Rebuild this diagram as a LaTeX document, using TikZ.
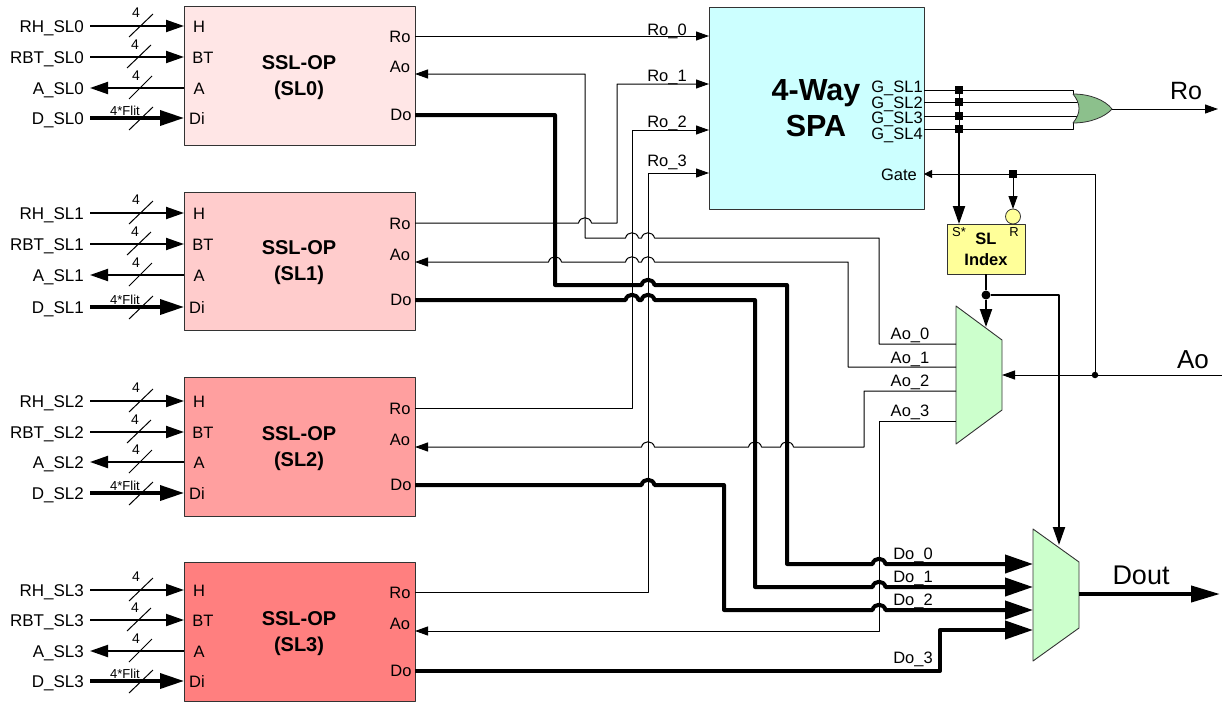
\documentclass[tikz,border=0pt]{standalone}
\usepackage{fontspec}
\setmainfont{Liberation Sans}
\usetikzlibrary{arrows.meta}
\definecolor{slcol0}{HTML}{FFE6E6}
\definecolor{slcol1}{HTML}{FFCCCC}
\definecolor{slcol2}{HTML}{FF9F9F}
\definecolor{slcol3}{HTML}{FF7F7F}
\definecolor{spacol}{HTML}{CCFFFF}
\definecolor{muxcol}{HTML}{CCFFCC}
\definecolor{idxcol}{HTML}{FFFF99}
\definecolor{orcol}{HTML}{8CC08C}
\begin{document}
\begin{tikzpicture}[x=1pt,y=-1pt, line join=round, line cap=butt,
	sig/.style={inner sep=0pt,text height=12pt,text depth=0pt,font=\fontsize{16.5}{19}\selectfont},
	portlbl/.style={sig,anchor=east,inner xsep=6pt,font=\fontsize{17}{19}\selectfont},
	small/.style={inner sep=0pt,font=\fontsize{13}{15}\selectfont},
	huge/.style={inner sep=0pt,font=\fontsize{26}{30}\selectfont},
	block/.style={draw=black!80,line width=0.9pt,minimum width=231pt,minimum height=138.5pt,inner sep=0pt,outer sep=0pt},
	wire/.style={line width=1pt,>={Triangle[length=13pt,width=9pt]}},
	bus/.style={line width=2pt,>={Triangle[length=18pt,width=12pt]}},
	dbus/.style={line width=3.5pt,>={Triangle[length=24pt,width=15pt]}},
	dowire/.style={line width=4pt,>={Triangle[length=28pt,width=18pt]}},
	selwire/.style={line width=2pt,>={Triangle[length=18pt,width=12pt]}},
	junc/.style={fill=black,inner sep=0pt,minimum size=7.5pt},
	dot/.style={circle,fill=black,inner sep=0pt,minimum size=#1},
	mux/.style={draw=black!80,line width=0.9pt,fill=muxcol}]
	\def\hop(#1,#2){-- ({#1-6.5},#2) .. controls ({#1-5},{#2-7}) and ({#1+5},{#2-7}) .. ({#1+6.5},#2)}
	\useasboundingbox (0,0) rectangle (1222,704);
	\foreach \i/\ymid/\yh/\ybt/\ya/\ydi/\yro/\yao/\ydo in {0/76/26/57/88/118/36/74/115,1/261.5/213/244/275/307/223/262/300,2/447/401/432/462/493/408/447/485,3/632/590/620/651/681/592/631/671} {
		\node[block,fill=slcol\i] (sl\i) at (299.5,\ymid) {};
		\node[inner sep=0pt,align=center,font=\bfseries\fontsize{20}{26}\selectfont] (title\i) at (299,\ymid+1.5) {SSL-OP\\(SL\i)};
		\node[sig] (h\i) at (199,\yh) {H};
		\node[sig] (bt\i) at (203,\ybt) {BT};
		\node[sig] (a\i) at (199,\ya) {A};
		\node[sig] (di\i) at (197,\ydi) {Di};
		\node[sig] (rolbl\i) at (400,\yro) {Ro};
		\node[sig] (aolbl\i) at (400,\yao-8) {Ao};
		\node[sig] (dolbl\i) at (401,\ydo-1) {Do};
		\coordinate (ro\i) at (sl\i.east |- 0,\yro);
		\coordinate (ao\i) at (sl\i.east |- 0,\yao);
		\coordinate (do\i) at (sl\i.east |- 0,\ydo);
		\node[portlbl] (rh\i) at (90,\yh) {RH\_SL\i};
		\node[portlbl] (rbt\i) at (90,\ybt) {RBT\_SL\i};
		\node[portlbl] (asl\i) at (90,\ya) {A\_SL\i};
		\node[portlbl] (dsl\i) at (90,\ydi) {D\_SL\i};
		\draw[bus,->] (rh\i.east) -- (sl\i.west |- rh\i.east);
		\draw[bus,->] (rbt\i.east) -- (sl\i.west |- rbt\i.east);
		\draw[bus,<-] (asl\i.east) -- (sl\i.west |- asl\i.east);
		\draw[dbus,->] (dsl\i.east) -- (sl\i.west |- dsl\i.east);
		\draw[wire] (129,\yh+11) -- ++(24,-23);
		\draw[wire] (127,\ybt+11) -- ++(24,-23);
		\draw[wire] (129,\ya+11) -- ++(23,-23);
		\draw[wire] (129,\ydi+12) -- ++(24,-23);
		\node[small,font=\fontsize{14}{16}\selectfont] (nh\i) at (136,\yh-13) {4};
		\node[small,font=\fontsize{14}{16}\selectfont] (nbt\i) at (135,\ybt-12) {4};
		\node[small,font=\fontsize{14}{16}\selectfont] (na\i) at (136,\ya-12) {4};
		\node[small] (nd\i) at (125,\ydi-7) {4*Flit};
	}
	\node[draw=black!80,line width=0.9pt,fill=spacol,minimum width=215pt,minimum height=202pt,inner sep=0pt,outer sep=0pt] (spa) at (816.5,108) {};
	\node[align=center,inner sep=0pt,font=\bfseries\fontsize{30.5}{36}\selectfont] (spatitle) at (816,108) {4-Way\\SPA};
	\foreach \n/\y/\yt in {1/90/86,2/102/102,3/116/117,4/129/133} {
		\node[sig] (gl\n) at (897,\yt) {G\_SL\n};
		\coordinate (g\n) at (spa.east |- 0,\y);
	}
	\node[sig] (gatelbl) at (899,174) {Gate};
	\foreach \n/\y in {0/36,1/84,2/130,3/173} \coordinate (rin\n) at (spa.west |- 0,\y);
	\foreach \n/\y in {0/29,1/75,2/121,3/160} \node[sig] (rolab\n) at (667,\y) {Ro\_\n};
	\draw[wire,->] (ro0) -- (rin0);
	\draw[wire,->] (ro1) \hop(585,223) -- (617,223) -- (617,84) -- (rin1);
	\draw[wire,->] (ro2) -- (632,408) -- (632,130) -- (rin2);
	\draw[wire,->] (ro3) -- (648,592) -- (648,173) -- (rin3);
	\draw[mux] (956,306) coordinate (ma) -- (1002,340) -- (1002,410) -- (956,444) -- cycle;
	\foreach \n/\y in {0/344,1/367,2/391,3/421} \coordinate (ain\n) at (ma |- 0,\y);
	\foreach \n/\y in {0/333,1/357,2/380,3/410} \node[sig] (aolab\n) at (910,\y) {Ao\_\n};
	\draw[wire,<-] (ao0) -- (585,74) -- (585,238) \hop(632,238) \hop(648,238) -- (879,238) -- (879,344) -- (ain0);
	\draw[wire,<-] (ao1) \hop(555,262) \hop(632,262) \hop(648,262) -- (848,262) -- (848,367) -- (ain1);
	\draw[wire,<-] (ao2) \hop(648,447) \hop(755,447) \hop(787,447) -- (864,447) -- (864,391) -- (ain2);
	\draw[wire,<-] (ao3) -- (879,631) -- (879,421) -- (ain3);
	\draw[mux] (1033,529) coordinate (mb) -- (1079,562) -- (1079,628) -- (1033,661) -- cycle;
	\foreach \n/\y in {0/564,1/587,2/610,3/630} \coordinate (din\n) at (mb |- 0,\y);
	\foreach \n/\y in {0/553,1/576,2/599,3/657} \node[sig] (dolab\n) at (913,\y) {Do\_\n};
	\draw[dowire,->] (do0) -- (555,115) -- (555,285) \hop(648,285) -- (787,285) -- (787,564) \hop(879,564) -- (din0);
	\draw[dowire,->] (do1) \hop(632,300) \hop(648,300) -- (755,300) -- (755,587) \hop(879,587) -- (din1);
	\draw[dowire,->] (do2) \hop(648,485) -- (724,485) -- (724,610) \hop(879,610) -- (din2);
	\draw[dowire,->] (do3) -- (940,671) -- (940,630) -- (din3);
	\coordinate (dmout) at (1079,594);
	\coordinate (dend) at (1220,594);
	\draw[dowire,>={Triangle[length=29pt,width=16pt]},->] (dmout) -- (dend);
	\node[huge,font=\fontsize{27}{30}\selectfont] (doutlbl) at (1141,575) {Dout};
	\draw[wire] (g1) -- (1073,90) -- (1073,94);
	\draw[wire] (g2) -- (1078,102);
	\draw[wire] (g3) -- (1078,116);
	\draw[wire] (g4) -- (1073,129) -- (1073,123);
	\draw[draw=black!80,line width=0.8pt,fill=orcol] (1073,94) .. controls (1090,94) and (1105,100) .. (1112,109) coordinate (orout) .. controls (1105,117) and (1090,123) .. (1073,123) .. controls (1081,113) and (1081,104) .. (1073,94);
	\coordinate (roend) at (1218,109);
	\draw[wire,->] (orout) -- (roend);
	\node[huge,font=\fontsize{25}{30}\selectfont] (rolarge) at (1186,91) {Ro};
	\node[draw=black!80,line width=0.9pt,fill=idxcol,minimum width=78pt,minimum height=50pt,inner sep=0pt,outer sep=0pt] (idx) at (986,249) {};
	\node[inner sep=0pt,font=\bfseries\fontsize{16.5}{19}\selectfont] (idxa) at (986,239) {SL};
	\node[inner sep=0pt,font=\bfseries\fontsize{16.5}{19}\selectfont] (idxb) at (986,260) {Index};
	\node[small] (sstar) at (959,232) {S*};
	\node[small] (rlbl) at (1014,232) {R};
	\node[circle,draw=black!80,line width=0.8pt,fill=idxcol,minimum size=15pt,inner sep=0pt,outer sep=0pt] (rcirc) at (1013,216.5) {};
	\foreach \n/\y in {1/90,2/102,3/116,4/129} \node[junc] (js\n) at (959,\y) {};
	\coordinate (sin) at (js4 |- idx.north);
	\draw[wire] (js1) -- (js4);
	\draw[selwire,->] (js4) -- (sin);
	\coordinate (gate) at (spa.east |- 0,174);
	\coordinate (gcorner) at (1095,174);
	\node[dot=6.5pt] (aodot) at (1095,375) {};
	\node[junc] (jr) at (1013,174) {};
	\coordinate (aoin) at (1222,375);
	\coordinate (mout) at (1002,375);
	\draw[wire,>={Triangle[length=8pt,width=8pt]},->] (aodot) -- (gcorner) -- (gate);
	\draw[wire,->] (jr) -- (rcirc);
	\draw[wire,->] (aoin) -- (mout);
	\node[dot=9pt] (seldot) at (986,295) {};
	\coordinate (msel) at (986,327);
	\coordinate (dsel) at (1059,545);
	\draw[selwire] (idx.south -| seldot) -- (seldot);
	\draw[selwire,->] (seldot) -- (msel);
	\draw[selwire,->] (seldot) -- (1059,295) -- (dsel);
	\node[huge] (aolarge) at (1193,360) {Ao};
\end{tikzpicture}
\end{document}
